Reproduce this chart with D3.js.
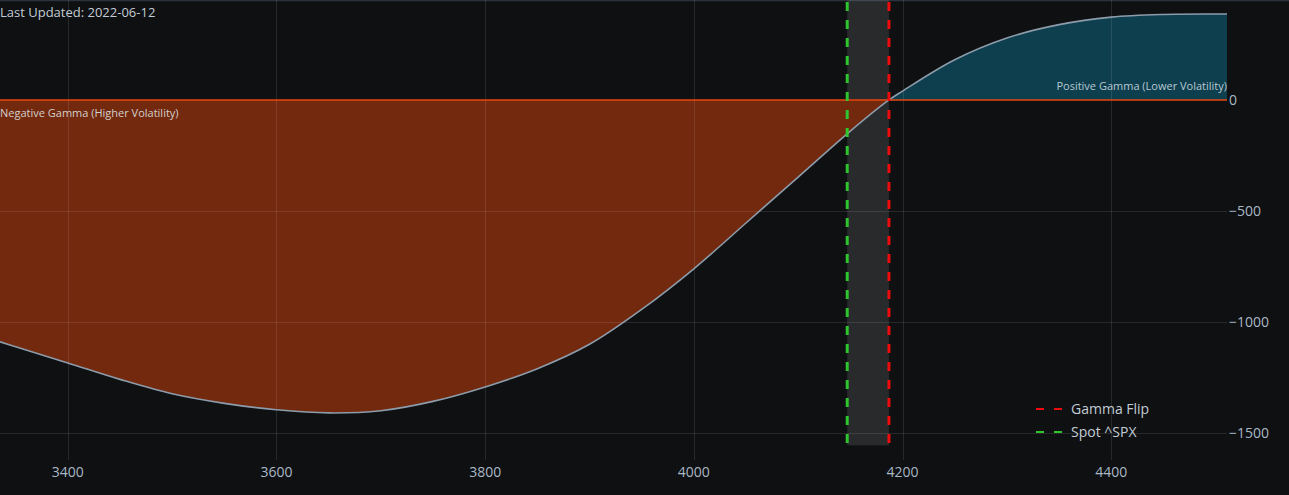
<!DOCTYPE html>
<html>
<head>
<meta charset="utf-8">
<script src="https://cdn.jsdelivr.net/npm/d3@7"></script>
<style>
  html, body { margin: 0; padding: 0; background: #0e1011; }
  svg { display: block; font-family: "Open Sans", sans-serif; }
</style>
</head>
<body>
<div id="chart"></div>
<script>
// strike levels and net gamma exposure
const strikes = [3335, 3350, 3400, 3450, 3500, 3550, 3600, 3650, 3700, 3750, 3800, 3850, 3900, 3950, 4000,
                 4050, 4100, 4150, 4187, 4200, 4250, 4300, 4350, 4400, 4450, 4500, 4511];
const gamma = [-1089, -1111, -1184, -1258, -1323, -1366, -1395, -1409, -1399, -1357, -1292, -1210, -1100, -943, -760,
               -554, -347, -140, 0, 40, 181, 279, 339, 373, 385, 387, 387];
const xTicks = [3400, 3600, 3800, 4000, 4200, 4400];
const yTicks = [0, -500, -1000, -1500];
const flipLevel = 4187;
const spotLevel = 4147;
const lastUpdated = "2022-06-12";
const legendItems = [
    { name: "Gamma Flip", color: "#ee0b0b" },
    { name: "Spot ^SPX", color: "#2ec52e" }
];

const width = 1289, height = 495;
const plotW = 1227, plotH = 460;

const data = strikes.map((s, i) => ({ s: s, v: gamma[i] }));

const svg = d3.select("#chart").append("svg")
    .attr("width", width)
    .attr("height", height);

svg.append("rect").attr("width", width).attr("height", height).attr("fill", "#0e1011");

// scales
const x = d3.scaleLinear().domain([3335, 4511]).range([0, plotW]);
const y = d3.scaleLinear().domain([450, -1621]).range([0, plotH]);

// top border
svg.append("line")
    .attr("x1", 0).attr("x2", width).attr("y1", 0.5).attr("y2", 0.5)
    .attr("stroke", "#2b323a").attr("stroke-width", 1.5);

// band between spot and flip
svg.append("rect")
    .attr("x", x(spotLevel)).attr("y", y(450))
    .attr("width", x(flipLevel) - x(spotLevel))
    .attr("height", y(-1555) - y(450))
    .attr("fill", "#ffffff").attr("opacity", 0.11);

// clip paths for the two fill colours
const defs = svg.append("defs");
defs.append("clipPath").attr("id", "clipPos")
    .append("rect").attr("x", 0).attr("y", 0).attr("width", plotW).attr("height", y(0));
defs.append("clipPath").attr("id", "clipNeg")
    .append("rect").attr("x", 0).attr("y", y(0)).attr("width", plotW).attr("height", plotH - y(0));

const curve = d3.curveCatmullRom.alpha(0.5);

const area = d3.area()
    .x(d => x(d.s))
    .y0(y(0))
    .y1(d => y(d.v))
    .curve(curve);

svg.append("path").datum(data)
    .attr("clip-path", "url(#clipNeg)")
    .attr("d", area)
    .attr("fill", "#72290e");

svg.append("path").datum(data)
    .attr("clip-path", "url(#clipPos)")
    .attr("d", area)
    .attr("fill", "#0e3f4e");

// grid
const grid = svg.append("g").attr("stroke", "#ffffff").attr("stroke-opacity", 0.1).attr("stroke-width", 1);
grid.selectAll(".gx").data(xTicks).join("line")
    .attr("x1", d => Math.round(x(d)) + 0.5).attr("x2", d => Math.round(x(d)) + 0.5)
    .attr("y1", 0).attr("y2", plotH);
grid.selectAll(".gy").data(yTicks.filter(d => d !== 0)).join("line")
    .attr("x1", 0).attr("x2", plotW)
    .attr("y1", d => Math.round(y(d)) + 0.5).attr("y2", d => Math.round(y(d)) + 0.5);

// zero line
svg.append("line")
    .attr("x1", 0).attr("x2", plotW).attr("y1", y(0)).attr("y2", y(0))
    .attr("stroke", "#e8470f").attr("stroke-width", 1.5);

// gamma curve
const line = d3.line().x(d => x(d.s)).y(d => y(d.v)).curve(curve);
svg.append("path").datum(data)
    .attr("d", line)
    .attr("fill", "none")
    .attr("stroke", "#8d9cab")
    .attr("stroke-width", 1.6);

// spot and flip lines
[[spotLevel, legendItems[1].color], [flipLevel, legendItems[0].color]].forEach(([lvl, col]) => {
    svg.append("line")
        .attr("x1", x(lvl)).attr("x2", x(lvl))
        .attr("y1", y(450)).attr("y2", y(-1555))
        .attr("stroke", col).attr("stroke-width", 3)
        .attr("stroke-dasharray", "9,9")
        .attr("stroke-dashoffset", -2);
});

// x axis labels
svg.append("g").selectAll("text").data(xTicks).join("text")
    .attr("x", d => x(d)).attr("y", 477)
    .attr("text-anchor", "middle")
    .attr("fill", "#aab8c6").attr("font-size", 14)
    .text(d => d);

// y axis labels
svg.append("g").selectAll("text").data(yTicks).join("text")
    .attr("x", plotW + 2).attr("y", d => y(d) + 5)
    .attr("text-anchor", "start")
    .attr("fill", "#aab8c6").attr("font-size", 14)
    .text(d => d3.format("d")(d).replace("-", "\u2212"));

// annotations
svg.append("text").attr("x", 0).attr("y", 17)
    .attr("fill", "#c3ccd6").attr("font-size", 13)
    .text("Last Updated: " + lastUpdated);

svg.append("text").attr("x", 0).attr("y", y(0) + 17)
    .attr("fill", "#d2cfcc").attr("font-size", 11)
    .text("Negative Gamma (Higher Volatility)");

svg.append("text").attr("x", plotW).attr("y", y(0) - 10)
    .attr("text-anchor", "end")
    .attr("fill", "#b8c8d2").attr("font-size", 11)
    .text("Positive Gamma (Lower Volatility)");

// legend
const legend = svg.append("g").attr("transform", "translate(1036,409)");
legendItems.forEach((it, i) => {
    const g = legend.append("g").attr("transform", `translate(0,${i * 23})`);
    g.append("line").attr("x1", 0).attr("x2", 28).attr("y1", 0).attr("y2", 0)
        .attr("stroke", it.color).attr("stroke-width", 2)
        .attr("stroke-dasharray", "8,10");
    g.append("text").attr("x", 35).attr("y", 5)
        .attr("fill", "#c3ccd6").attr("font-size", 14)
        .text(it.name);
});
</script>
</body>
</html>
